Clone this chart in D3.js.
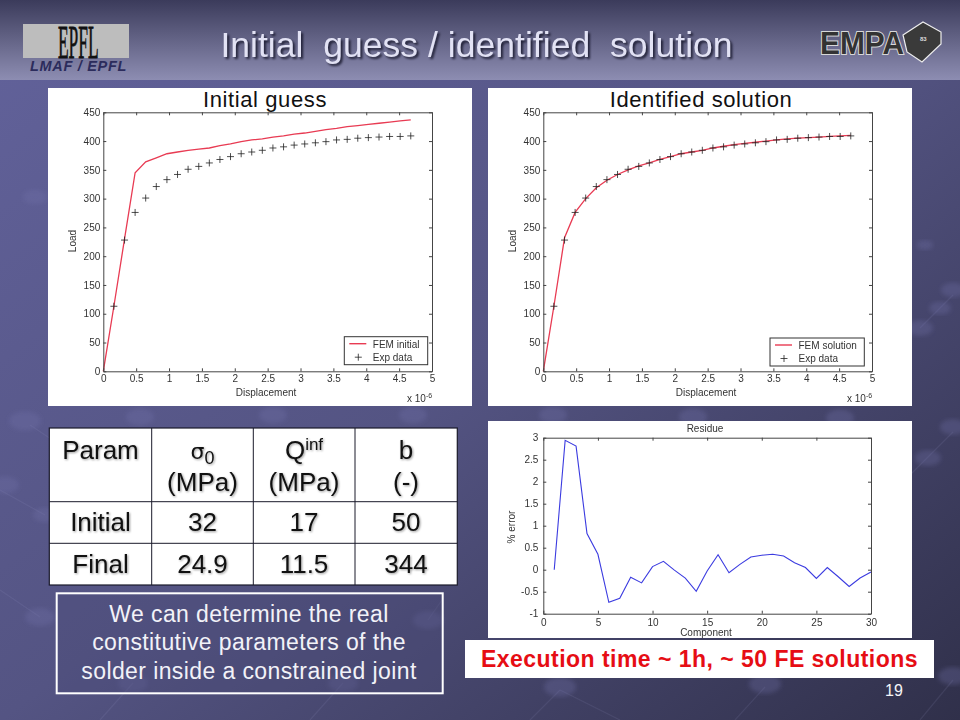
<!DOCTYPE html>
<html lang="en">
<head>
<meta charset="utf-8">
<title>Initial guess / identified solution</title>
<script src="https://cdn.jsdelivr.net/npm/d3@7"></script>
<style>
  html, body { margin: 0; padding: 0; background: #4a4a75; overflow: hidden; }
  svg { display: block; }
  text { font-family: "Liberation Sans", Arial, sans-serif; white-space: pre; }
  .axis path, .axis line { stroke: #444; stroke-width: 1px; fill: none; }
  .axis text { font-size: 10px; fill: #333; font-family: "Liberation Sans", Arial, sans-serif; }
  .lbl { font-size: 10px; fill: #333; }
  .cell { font-size: 26px; fill: #111; text-anchor: middle; filter: drop-shadow(1.5px 1.5px 1px rgba(0,0,0,.4)); }
</style>
</head>
<body>
<script>
// load-displacement data, x in units of 1e-6
var expX = [0.161,0.323,0.484,0.645,0.806,0.968,1.129,1.29,1.452,1.613,1.774,1.935,2.097,2.258,2.419,2.58,2.742,2.903,3.064,3.226,3.387,3.548,3.71,3.871,4.032,4.194,4.355,4.516,4.677];
var expLoad = [113,228,276,301,321,333,342,351,356,362,368,373,378,381,384,388,390,393,395,397,399,402,403,405,406,407,408,408,409];

var femX = [0,0.161,0.323,0.484,0.645,0.806,0.968,1.129,1.29,1.452,1.613,1.774,1.935,2.097,2.258,2.419,2.58,2.742,2.903,3.064,3.226,3.387,3.548,3.71,3.871,4.032,4.194,4.355,4.516,4.677];
var femInitial = [0,113,230,345,364,371,378,381,384,386,388,392,395,399,402,404,407,409,412,414,417,420,422,425,427,429,431,433,435,437];
var femSolution = [0,113,232,276,300,319,332,342,350,357,362,368,373,378,381,384,388,391,394,396,398,400,402,404,405,406,407,408,409,410];

// residue
var residueX = [1,2,3,4,5,6,7,8,9,10,11,12,13,14,15,16,17,18,19,20,21,22,23,24,25,26,27,28,29,30];
var residueY = [0,2.94,2.81,0.82,0.35,-0.74,-0.65,-0.17,-0.30,0.07,0.19,-0.01,-0.19,-0.49,-0.03,0.34,-0.07,0.12,0.29,0.33,0.35,0.31,0.16,0.05,-0.20,0.05,-0.16,-0.38,-0.19,-0.05];

var loadTicks = [0,50,100,150,200,250,300,350,400,450];
var dispTicks = [0,0.5,1,1.5,2,2.5,3,3.5,4,4.5,5];
var compTicks = [0,5,10,15,20,25,30];
var errTicks = [-1,-0.5,0,0.5,1,1.5,2,2.5,3];

var tableCols = ["Param","","","b"];
var tableUnits = ["","(MPa)","(MPa)","(-)"];
var tableRows = [["Initial","32","17","50"],["Final","24.9","11.5","344"]];
var noteLines = ["We can determine the real","constitutive parameters of the","solder inside a constrained joint"];

// background decoration: little balls and the threads between them
var blobs = [[25,421,16],[5,485,14],[45,515,12],[40,617,15],[140,417,14],[273,415,14],[413,415,14],[553,415,14],[693,417,14],[840,418,14],
             [953,290,12],[940,308,11],[920,328,13],[953,427,13],[928,458,13],[560,687,16],[765,684,16],[953,676,15],[428,620,15],[133,683,15],[343,683,15],[35,197,12],[925,245,8]];
var threads = [[0,490,45,515],[0,590,40,617],[30,425,60,445],[953,295,920,328],[953,432,905,480],[560,690,530,720],[765,687,735,720],[953,680,920,720],[560,690,620,720],[428,620,442,600],[133,683,100,720],[343,683,310,720]];

var svg = d3.select("body").append("svg").attr("width", 960).attr("height", 720);
var defs = svg.append("defs");

var bg = defs.append("linearGradient").attr("id", "bg").attr("x1", 0).attr("y1", 0).attr("x2", 1).attr("y2", 1);
bg.append("stop").attr("offset", "0%").attr("stop-color", "#62629b");
bg.append("stop").attr("offset", "50%").attr("stop-color", "#545483");
bg.append("stop").attr("offset", "100%").attr("stop-color", "#30304a");

var head = defs.append("linearGradient").attr("id", "head").attr("x1", 0).attr("y1", 0).attr("x2", 0).attr("y2", 1);
head.append("stop").attr("offset", "0%").attr("stop-color", "#3b3b5b");
head.append("stop").attr("offset", "100%").attr("stop-color", "#8d8db2");

defs.append("filter").attr("id", "soft").append("feGaussianBlur").attr("stdDeviation", 2);
defs.append("filter").attr("id", "jpeg").append("feGaussianBlur").attr("stdDeviation", 0.25);

svg.append("rect").attr("width", 960).attr("height", 720).attr("fill", "url(#bg)");

var deco = svg.append("g");
deco.selectAll("line").data(threads).enter().append("line")
  .attr("x1", function(d){return d[0];}).attr("y1", function(d){return d[1];})
  .attr("x2", function(d){return d[2];}).attr("y2", function(d){return d[3];})
  .attr("stroke", "#9a9ac8").attr("stroke-opacity", 0.13).attr("stroke-width", 1.2);
deco.selectAll("ellipse").data(blobs).enter().append("ellipse")
  .attr("cx", function(d){return d[0];}).attr("cy", function(d){return d[1];})
  .attr("rx", function(d){return d[2];}).attr("ry", function(d){return d[2] * 0.6;})
  .attr("fill", "#7272aa").attr("fill-opacity", 0.3).attr("filter", "url(#soft)");

// header band
svg.append("rect").attr("width", 960).attr("height", 80).attr("fill", "url(#head)");

svg.append("text").attr("x", 476.5).attr("y", 57).attr("text-anchor", "middle")
  .attr("font-size", 35.6).attr("fill", "#e2e2f4")
  .style("filter", "drop-shadow(2px 2px 1px rgba(20,20,40,.85))")
  .text("Initial  guess / identified  solution");

// EPFL logo
svg.append("rect").attr("x", 23).attr("y", 24).attr("width", 106).attr("height", 34).attr("fill", "#bdbdbd");
svg.append("text").attr("transform", "translate(58,58) scale(0.58,1.55)")
  .attr("font-size", 30).attr("fill", "#111").attr("stroke", "#111").attr("stroke-width", 0.5)
  .style("font-family", "'Liberation Serif', serif").text("EPFL");
svg.append("text").attr("x", 78.5).attr("y", 71).attr("text-anchor", "middle")
  .attr("font-size", 14.5).attr("font-weight", "bold").attr("font-style", "italic").attr("letter-spacing", 0.7)
  .attr("fill", "#2c2c5c").text("LMAF / EPFL");

// EMPA logo
svg.append("text").attr("x", 820).attr("y", 53.5)
  .attr("font-size", 31).attr("font-weight", "bold").attr("fill", "#333")
  .attr("stroke", "#d8d8d8").attr("stroke-width", 2).style("paint-order", "stroke")
  .attr("textLength", 84).attr("lengthAdjust", "spacingAndGlyphs")
  .text("EMPA");
svg.append("path").attr("d", "M903,35L923,22L941,32L941,44L922,62L907,52Z")
  .attr("fill", "#3a3a3a").attr("stroke", "#eee").attr("stroke-width", 1.2);
svg.append("text").attr("x", 920).attr("y", 41).attr("font-size", 6).attr("font-weight", "bold").attr("fill", "#ddd").text("83");

// one matlab style plot
function drawAxes(g, x, y, xTicks, yTicks, xPad, yPad) {
  var x0 = x.range()[0], x1 = x.range()[1], y0 = y.range()[0], y1 = y.range()[1];
  g.append("g").attr("class", "axis").attr("transform", "translate(0," + y0 + ")")
    .call(d3.axisBottom(x).tickValues(xTicks).tickSizeInner(-3).tickSizeOuter(0).tickPadding(xPad).tickFormat(function(d){return d;}));
  g.append("g").attr("class", "axis").attr("transform", "translate(0," + y1 + ")")
    .call(d3.axisTop(x).tickValues(xTicks).tickSizeInner(-3).tickSizeOuter(0).tickFormat(""));
  g.append("g").attr("class", "axis").attr("transform", "translate(" + x0 + ",0)")
    .call(d3.axisLeft(y).tickValues(yTicks).tickSizeInner(-3).tickSizeOuter(0).tickPadding(yPad).tickFormat(function(d){return d;}));
  g.append("g").attr("class", "axis").attr("transform", "translate(" + x1 + ",0)")
    .call(d3.axisRight(y).tickValues(yTicks).tickSizeInner(-3).tickSizeOuter(0).tickFormat(""));
}

function loadPanel(px, title, titleX, fem, legendName, lx, ly, lw) {
  var g = svg.append("g").attr("filter", "url(#jpeg)");
  g.append("rect").attr("x", px).attr("y", 88).attr("width", 424).attr("height", 318).attr("fill", "#fff");

  var x = d3.scaleLinear().domain([0, 5]).range([px + 55.3, px + 384]);
  var y = d3.scaleLinear().domain([0, 450]).range([371.3, 112.3]);

  var line = d3.line()
    .x(function(d, i){return x(femX[i]);})
    .y(function(d){return y(d);});
  g.append("path").datum(fem).attr("d", line).attr("fill", "none").attr("stroke", "#e83a52").attr("stroke-width", 1.3);

  g.selectAll("path.exp").data(expLoad).enter().append("path").attr("class", "exp")
    .attr("transform", function(d, i){return "translate(" + x(expX[i]) + "," + y(d) + ")";})
    .attr("d", "M-3.5,0H3.5M0,-3.5V3.5").attr("fill", "none").attr("stroke", "#222").attr("stroke-width", 0.8);

  drawAxes(g, x, y, dispTicks, loadTicks, 4, 3);

  g.append("text").attr("class", "lbl").attr("x", px + 218).attr("y", 396).attr("text-anchor", "middle").text("Displacement");
  g.append("text").attr("class", "lbl").attr("transform", "translate(" + (px + 28) + ",241) rotate(-90)").attr("text-anchor", "middle").text("Load");
  g.append("text").attr("class", "lbl").attr("x", px + 359).attr("y", 402).text("x 10");
  g.append("text").attr("class", "lbl").attr("x", px + 378).attr("y", 398).style("font-size", "7px").text("-6");

  // legend
  g.append("rect").attr("x", lx).attr("y", ly).attr("width", lw).attr("height", 28).attr("fill", "#fff").attr("stroke", "#333").attr("stroke-width", 1);
  g.append("line").attr("x1", lx + 5).attr("x2", lx + 22).attr("y1", ly + 7).attr("y2", ly + 7).attr("stroke", "#e83a52").attr("stroke-width", 1.4);
  g.append("path").attr("transform", "translate(" + (lx + 14) + "," + (ly + 20.5) + ")")
    .attr("d", "M-3.5,0H3.5M0,-3.5V3.5").attr("fill", "none").attr("stroke", "#222").attr("stroke-width", 0.8);
  g.append("text").attr("class", "lbl").attr("x", lx + 28.5).attr("y", ly + 11).text(legendName);
  g.append("text").attr("class", "lbl").attr("x", lx + 28.5).attr("y", ly + 24).text("Exp data");

  svg.append("text").attr("x", titleX).attr("y", 107).attr("text-anchor", "middle")
    .attr("font-size", 22).attr("letter-spacing", 0.6).attr("fill", "#111").text(title);
}

loadPanel(48, "Initial guess", 265, femInitial, "FEM initial", 344.3, 336.7, 83.4);
loadPanel(488, "Identified solution", 701, femSolution, "FEM solution", 770, 338, 94.3);

// residue plot
(function() {
  var g = svg.append("g").attr("filter", "url(#jpeg)");
  g.append("rect").attr("x", 488).attr("y", 421).attr("width", 424).attr("height", 217).attr("fill", "#fff");
  var x = d3.scaleLinear().domain([0, 30]).range([543.3, 871]);
  var y = d3.scaleLinear().domain([-1, 3]).range([613.7, 437.7]);
  var line = d3.line()
    .x(function(d, i){return x(residueX[i]);})
    .y(function(d){return y(d);});
  g.append("path").datum(residueY).attr("d", line).attr("fill", "none").attr("stroke", "#3b3be0").attr("stroke-width", 1.1);
  drawAxes(g, x, y, compTicks, errTicks, 5, 5);
  g.append("text").attr("class", "lbl").attr("x", 705).attr("y", 432).attr("text-anchor", "middle").text("Residue");
  g.append("text").attr("class", "lbl").attr("x", 706).attr("y", 636).attr("text-anchor", "middle").text("Component");
  g.append("text").attr("class", "lbl").attr("transform", "translate(515,527) rotate(-90)").attr("text-anchor", "middle").text("% error");
})();

// parameter table
var colX = [49.3, 151.7, 253.3, 355, 457.3];
var rowY = [428, 501.7, 543.3, 585];
var colMid = [100.5, 202.5, 304, 406];
var rowBase = [531, 573.3];

var table = svg.append("g");
table.append("rect").attr("x", colX[0]).attr("y", rowY[0]).attr("width", colX[4] - colX[0]).attr("height", rowY[3] - rowY[0])
  .attr("fill", "#fff").attr("stroke", "#1a1a2a").attr("stroke-width", 1.2);
table.selectAll("line.v").data(colX.slice(1, 4)).enter().append("line").attr("class", "v")
  .attr("x1", function(d){return d;}).attr("x2", function(d){return d;}).attr("y1", rowY[0]).attr("y2", rowY[3])
  .attr("stroke", "#1a1a2a").attr("stroke-width", 1);
table.selectAll("line.h").data(rowY.slice(1, 3)).enter().append("line").attr("class", "h")
  .attr("y1", function(d){return d;}).attr("y2", function(d){return d;}).attr("x1", colX[0]).attr("x2", colX[4])
  .attr("stroke", "#1a1a2a").attr("stroke-width", 1);

tableCols.forEach(function(c, i) {
  if (c) table.append("text").attr("class", "cell").attr("x", colMid[i]).attr("y", 459.3).text(c);
});
tableUnits.forEach(function(c, i) {
  if (c) table.append("text").attr("class", "cell").attr("x", colMid[i]).attr("y", 490.7).text(c);
});
var sigma = table.append("text").attr("class", "cell").attr("x", colMid[1]).attr("y", 459.3);
sigma.append("tspan").style("font-family", "'DejaVu Sans'").style("font-size", "22px").text("σ");
sigma.append("tspan").attr("dy", 5).style("font-size", "18px").text("0");
var qinf = table.append("text").attr("class", "cell").attr("x", colMid[2]).attr("y", 459.3);
qinf.append("tspan").text("Q");
qinf.append("tspan").attr("dy", -9).style("font-size", "17px").text("inf");

tableRows.forEach(function(row, r) {
  row.forEach(function(v, c) {
    table.append("text").attr("class", "cell").attr("x", colMid[c]).attr("y", rowBase[r]).text(v);
  });
});

// note box
svg.append("rect").attr("x", 56.7).attr("y", 593.3).attr("width", 386).attr("height", 100)
  .attr("fill", "#4a4a78").attr("fill-opacity", 0.4).attr("stroke", "#fff").attr("stroke-width", 2);
svg.selectAll("text.note").data(noteLines).enter().append("text").attr("class", "note")
  .attr("x", 249).attr("y", function(d, i){return 621.7 + i * 28.7;}).attr("text-anchor", "middle")
  .attr("font-size", 23).attr("letter-spacing", 0.4).attr("fill", "#f2f2f8").text(function(d){return d;});

// execution time box
svg.append("rect").attr("x", 465).attr("y", 640).attr("width", 469).attr("height", 38).attr("fill", "#fff");
svg.append("text").attr("x", 699.5).attr("y", 666.7).attr("text-anchor", "middle")
  .attr("font-size", 23).attr("font-weight", "bold").attr("letter-spacing", 0.47).attr("fill", "#e60d14")
  .text("Execution time ~ 1h, ~ 50 FE solutions");

svg.append("text").attr("x", 885).attr("y", 696).attr("font-size", 16).attr("fill", "#f4f4f8").text("19");
</script>
</body>
</html>
